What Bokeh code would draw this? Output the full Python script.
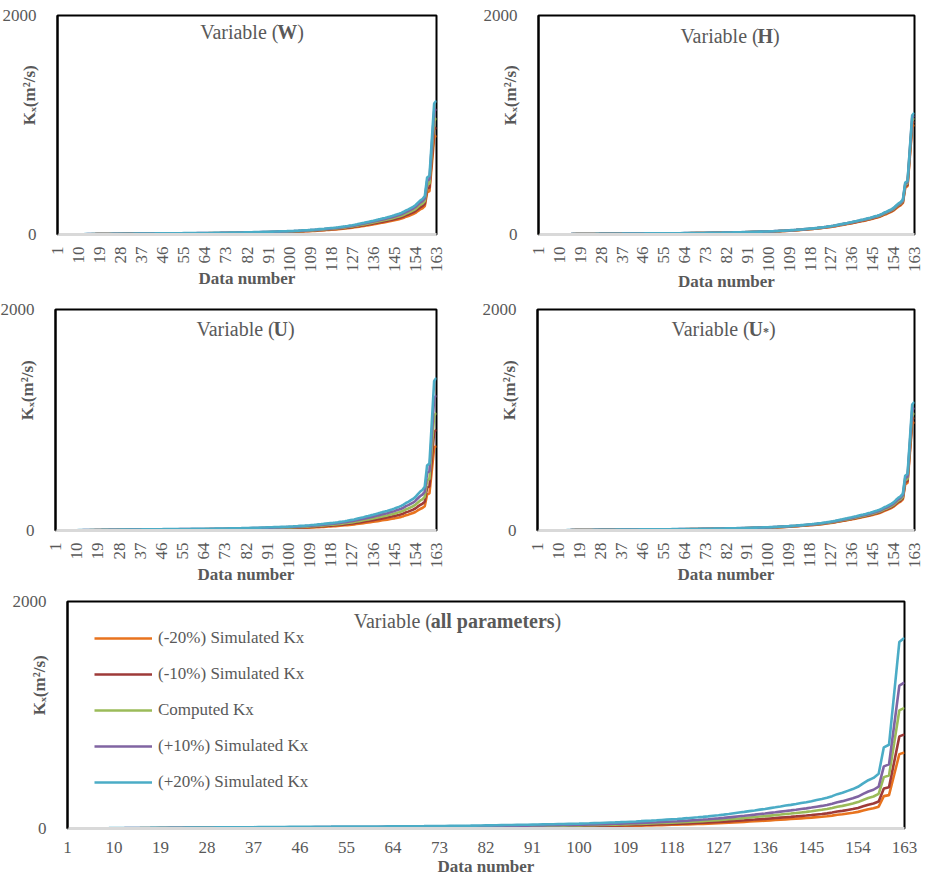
import math

from bokeh.embed import file_html
from bokeh.layouts import column, row
from bokeh.models import FixedTicker, Label, Legend, LegendItem, Range1d
from bokeh.plotting import figure
from bokeh.resources import INLINE

# ---------------------------------------------------------------- data
data_number = list(range(1, 164))

# Computed longitudinal dispersion coefficient Kx (m^2/s), sorted ascending
computed_kx = [
    0.4, 0.7, 0.9, 1.1, 1.3, 1.4, 1.6, 1.8, 1.9, 2.1,
    2.3, 2.4, 2.6, 2.8, 2.9, 3.1, 3.3, 3.6, 3.8, 4.0,
    4.2, 4.3, 4.5, 4.7, 4.9, 5.1, 5.3, 5.6, 5.8, 6.0,
    6.2, 6.3, 6.5, 6.7, 6.9, 7.1, 7.3, 7.6, 7.8, 8.0,
    8.2, 8.4, 8.6, 8.8, 9.0, 9.2, 9.4, 9.6, 9.8, 10.0,
    10.1, 10.2, 10.4, 10.5, 10.6, 10.7, 10.8, 10.9, 11.0, 11.1,
    11.3, 11.5, 11.7, 11.9, 12.1, 12.3, 12.5, 12.7, 12.9, 13.1,
    13.4, 13.7, 14.0, 14.3, 14.6, 14.9, 15.2, 15.5, 15.8, 16.2,
    16.7, 17.2, 17.6, 18.1, 18.6, 19.1, 19.6, 20.1, 20.6, 21.1,
    21.7, 22.3, 22.9, 23.5, 24.1, 24.7, 25.3, 25.9, 26.5, 27.2,
    28.1, 29.0, 30.0, 31.0, 32.1, 33.2, 34.2, 35.3, 36.6, 38.0,
    39.4, 40.9, 42.5, 44.1, 45.9, 47.8, 49.6, 51.4, 53.2, 55.3,
    57.6, 60.1, 62.4, 65.0, 67.8, 70.9, 73.8, 77.2, 81.0, 84.9,
    88.8, 92.6, 96.9, 100.8, 105.2, 109.1, 113.8, 118.2, 123.0, 127.9,
    131.8, 136.5, 141.7, 146.8, 152.3, 159.0, 164.5, 171.2, 180.4, 191.6,
    199.3, 209.7, 219.8, 232.5, 251.6, 269.4, 282.1, 305.2, 452.6, 466.9,
    751.8, 1040.3, 1063.5,
]

series_names = [
    "(-20%) Simulated Kx",
    "(-10%) Simulated Kx",
    "Computed Kx",
    "(+10%) Simulated Kx",
    "(+20%) Simulated Kx",
]

# Simulated / computed Kx ratio for each perturbation of the input variable
response_W = [0.85, 0.92, 1.0, 1.08, 1.15]
response_H = [0.944, 0.972, 1.0, 1.024, 1.046]
response_U = [0.72, 0.857, 1.0, 1.15, 1.30]
response_Ustar = [0.925, 0.962, 1.0, 1.045, 1.095]
response_all = [0.63, 0.78, 1.0, 1.21, 1.58]

x_ticks = list(range(1, 164, 9))
y_ticks = [0, 2000]

# ---------------------------------------------------------------- style
COLORS = ["#E8731E", "#9E3A38", "#9BBB59", "#8064A2", "#4BACC6"]
FONT = "Liberation Serif"
INK = "#595959"
# leading no-break spaces lift the rotated Kx title above the frame centre
KX_LABEL = "\u00a0" * 14 + "K\u2093(m\u00b2/s)"

REG_W = {" ": 250, "(": 333, ")": 333, "V": 722, "a": 444, "r": 333,
         "i": 278, "b": 500, "l": 278, "e": 444}
BOLD_W = {"W": 1000, "H": 778, "U": 722, "a": 500, "l": 278, " ": 250,
          "p": 556, "r": 444, "m": 833, "e": 444, "t": 333, "s": 389,
          "*": 500}
KERN_PREFIX = 3.5  # kerning inside "Variable (" at 20px


def text_width(s, bold, size):
    table = BOLD_W if bold else REG_W
    return sum(table.get(c, 500) for c in s) * size / 1000.0


def put(p, fh, dx, dy, text, size, bold=False):
    """Place text at (dx, dy) pixels measured from the frame's top-left corner."""
    p.add_layout(Label(
        x=dx, y=fh - dy, x_units="screen", y_units="screen", text=text,
        text_font=FONT, text_font_size=f"{size}px",
        text_font_style="bold" if bold else "normal",
        text_color=INK, text_align="left", text_baseline="alphabetic",
    ))


def panel(width, height, borders, factors, title_parts, title_pos,
          vertical_ticks, xlabel_standoff, legend=False):
    left, right, top, bottom = borders
    fh = height - top - bottom
    p = figure(width=width, height=height, output_backend="svg",
               toolbar_location=None, x_range=Range1d(1, 163),
               y_range=Range1d(0, 2000),
               min_border_left=left, min_border_right=right,
               min_border_top=top, min_border_bottom=bottom)
    p.grid.visible = False
    p.outline_line_color = "black"
    p.outline_line_width = 2
    p.background_fill_color = "white"
    p.border_fill_color = "white"

    xa = p.xaxis[0]
    xa.ticker = FixedTicker(ticks=x_ticks)
    xa.axis_line_color = "#D9D9D9"
    xa.axis_line_width = 3
    xa.major_tick_line_color = None
    xa.minor_tick_line_color = None
    xa.major_label_text_font = FONT
    xa.major_label_text_font_size = "17px"
    xa.major_label_text_color = INK
    xa.axis_label = "Data number"
    xa.axis_label_text_font = FONT
    xa.axis_label_text_font_size = "17px"
    xa.axis_label_text_font_style = "bold"
    xa.axis_label_text_color = INK
    xa.axis_label_standoff = xlabel_standoff
    if vertical_ticks:
        xa.major_label_orientation = math.pi / 2
        xa.major_label_standoff = 6
    else:
        xa.major_label_standoff = 7

    ya = p.yaxis[0]
    ya.ticker = FixedTicker(ticks=y_ticks)
    ya.axis_line_color = "black"
    ya.axis_line_width = 2
    ya.major_tick_line_color = None
    ya.minor_tick_line_color = None
    ya.major_label_text_font = FONT
    ya.major_label_text_font_size = "17px"
    ya.major_label_text_color = INK
    ya.major_label_standoff = 15
    ya.axis_label = KX_LABEL
    ya.axis_label_text_font = FONT
    ya.axis_label_text_font_size = "17px"
    ya.axis_label_text_font_style = "bold"
    ya.axis_label_text_color = INK
    ya.axis_label_standoff = -39

    renderers = []
    for f, c in zip(factors, COLORS):
        ys = [v * f for v in computed_kx]
        renderers.append(p.line(data_number, ys, line_color=c, line_width=2.6))

    # chart title with the bold variable name
    widths = [text_width(t, b, s) - (KERN_PREFIX if i == 0 else 0)
              for i, (t, b, s, _) in enumerate(title_parts)]
    cx, base = title_pos
    x0 = cx - sum(widths) / 2
    for (t, b, s, shift), w in zip(title_parts, widths):
        put(p, fh, x0, base + shift, t, s, bold=b)
        x0 += w

    if legend:
        items = [LegendItem(label=n, renderers=[r])
                 for n, r in zip(series_names, renderers)]
        lg = Legend(items=items, location="top_left", margin=27, padding=0,
                    spacing=16, glyph_width=58, glyph_height=20,
                    label_height=20, label_standoff=6,
                    label_text_font=FONT, label_text_font_size="17px",
                    label_text_color=INK, border_line_color=None,
                    background_fill_alpha=0)
        p.add_layout(lg, "center")
    return p


def title(var_parts):
    return [("Variable (", False, 20, 0)] + var_parts + [(")", False, 20, 0)]


p_w = panel(460, 295, (57, 24, 15, 58), response_W,
            title([("W", True, 20, 0)]), (194.5, 19), True, -6)
p_h = panel(465, 295, (78, 11, 15, 61), response_H,
            title([("H", True, 20, 0)]), (191.5, 20), True, -3)
p_u = panel(460, 295, (55, 24, 14, 60), response_U,
            title([("U", True, 20, 0)]), (190, 19), True, -6)
p_us = panel(465, 295, (77, 11, 14, 60), response_Ustar,
             title([("U", True, 20, 0), ("*", True, 12, 3)]), (186, 19), True, -6)
p_all = panel(925, 288, (67, 21, 11, 50), response_all,
              title([("all parameters", True, 20, 0)]), (390, 19),
              False, 1, legend=True)

layout = column(row(p_w, p_h), row(p_u, p_us), p_all)

open("out.html", "w").write(file_html(layout, INLINE))
